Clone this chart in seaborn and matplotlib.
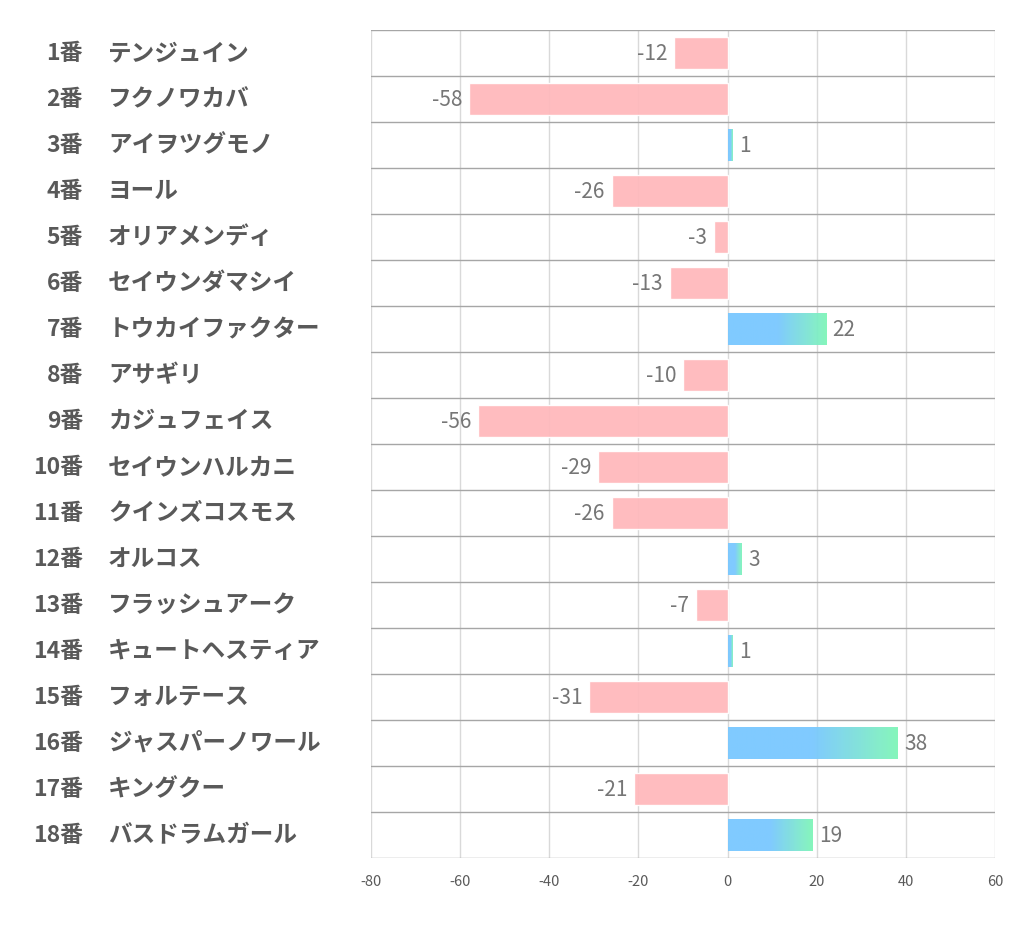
import numpy as np
import pandas as pd
import matplotlib
matplotlib.use("Agg")
import matplotlib.pyplot as plt
import matplotlib.transforms as mtransforms
from matplotlib.colors import LinearSegmentedColormap
import seaborn as sns

numbers = [f"{i}番" for i in range(1, 19)]
names = [
    "テンジュイン", "フクノワカバ", "アイヲツグモノ", "ヨール", "オリアメンディ",
    "セイウンダマシイ", "トウカイファクター", "アサギリ", "カジュフェイス",
    "セイウンハルカニ", "クインズコスモス", "オルコス", "フラッシュアーク",
    "キュートヘスティア", "フォルテース", "ジャスパーノワール", "キングクー",
    "バスドラムガール",
]
values = [-12, -58, 1, -26, -3, -13, 22, -10, -56, -29, -26, 3, -7, 1, -31, 38, -21, 19]
xticks = [-80, -60, -40, -20, 0, 20, 40, 60]

sns.set_theme(style="white")
plt.rcParams['font.family'] = ['Noto Sans CJK JP', 'DejaVu Sans']

df = pd.DataFrame({"label": [f"{n} {m}" for n, m in zip(numbers, names)], "value": values})
pink = "#ffb9bc"
blue = "#79c8ff"
green = "#80f6b8"
colors = [pink if v < 0 else blue for v in values]

fig = plt.figure(figsize=(10.22, 9.39), dpi=100)
ax = fig.add_axes([371 / 1022, 1 - 858 / 939, 624 / 1022, 828 / 939])

sns.barplot(data=df, x="value", y="label", hue="label", palette=colors, saturation=1,
            orient="h", width=0.68, legend=False, ax=ax, zorder=2)

grad = LinearSegmentedColormap.from_list("g", [(0, blue), (0.5, blue), (1, green)])
for p in list(ax.patches):
    w = p.get_width()
    if w > 0:
        p.set_facecolor("none")
        p.set_edgecolor("none")
        x0, y0 = p.get_x(), p.get_y()
        im = ax.imshow(np.linspace(0, 1, 256).reshape(1, -1), cmap=grad,
                       extent=[x0, x0 + w, y0 + p.get_height(), y0],
                       aspect="auto", zorder=2, alpha=0.95)
        im.set_clip_path(p)
    else:
        p.set_alpha(0.95)

ax.set_xlim(-80, 60)
ax.set_ylim(len(values) - 0.5, -0.5)
ax.set_xticks(xticks)
ax.set_xticklabels([str(t) for t in xticks], fontsize=10.5, color="#595959")
ax.tick_params(axis="x", length=0, pad=12)
ax.set_yticks([])
ax.set_xlabel("")
ax.set_ylabel("")
for s in ax.spines.values():
    s.set_visible(False)

for t in xticks:
    ax.axvline(t, color="#d9d9d9", lw=1, zorder=0)
for i in range(len(values) + 1):
    ax.axhline(i - 0.5, color="#a6a6a6", lw=1, zorder=1)

for i, v in enumerate(values):
    if v < 0:
        ax.annotate(str(v), (v, i), xytext=(-5, -1), textcoords="offset points",
                    ha="right", va="center", fontsize=15, color="#767676")
    else:
        ax.annotate(str(v), (v, i), xytext=(5, -1), textcoords="offset points",
                    ha="left", va="center", fontsize=15, color="#767676")

trans = mtransforms.blended_transform_factory(fig.transFigure, ax.transData)
for i, (n, m) in enumerate(zip(numbers, names)):
    ax.text(83 / 1022, i, n, transform=trans, ha="right", va="center",
            fontsize=16.5, fontweight="bold", color="#595959")
    ax.text(108 / 1022, i, m, transform=trans, ha="left", va="center",
            fontsize=17, fontweight="bold", color="#595959")

fig.savefig("out.png", dpi=100, facecolor="white")
